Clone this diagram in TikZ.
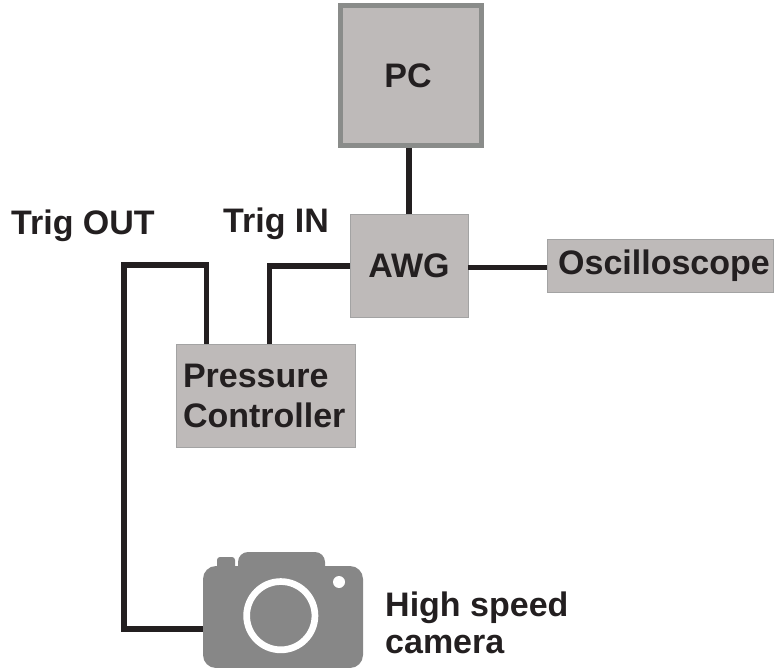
\documentclass[tikz,border=0pt]{standalone}
\usepackage{fontspec}
\setmainfont{Liberation Sans}
\definecolor{boxfill}{HTML}{BEBAB9}
\definecolor{pcborder}{HTML}{8A8C8A}
\definecolor{thinborder}{HTML}{A3A3A3}
\definecolor{ink}{HTML}{231F20}
\definecolor{camgray}{HTML}{878787}
\tikzset{
  lbl/.style={font=\fontsize{34}{40}\selectfont\bfseries, text=ink, inner sep=0pt},
  devbox/.style={lbl, fill=boxfill, draw=thinborder, line width=0.8pt, inner sep=0pt},
  pcbox/.style={lbl, fill=boxfill, draw=pcborder, line width=5pt, inner sep=0pt},
  wire/.style={draw=ink, line width=5.5pt, line join=miter, line cap=butt},
}
\begin{document}
\begin{tikzpicture}[x=1pt,y=-1pt]
\useasboundingbox (0,0) rectangle (774,668);
% boxes
\node[pcbox, minimum width=141pt, minimum height=140.5pt] (pc) at (411,75.75) {\hspace*{-6pt}\raisebox{-2pt}{PC}};
\node[devbox, minimum width=118pt, minimum height=103pt] (awg) at (409,265.5) {\raisebox{-4pt}{AWG}};
\node[devbox, minimum width=226pt, minimum height=53pt] (osc) at (660,265.5) {\hspace*{8pt}\raisebox{-4pt}{Oscilloscope}};
\node[devbox, minimum width=179pt, minimum height=103pt, text width=165pt, inner xsep=7pt, align=left] (ctrl) at (265.5,395.5) {Pressure\\Controller};
% camera
\fill[camgray, rounded corners=10pt] (238,585) -- (238,552) -- (325,552) -- (325,585) -- cycle;
\fill[camgray, rounded corners=3pt] (217,557) rectangle (235,575);
\node[fill=camgray, minimum width=160pt, minimum height=102pt, rounded corners=13pt, inner sep=0pt] (cam) at (283,617) {};
\fill[white, even odd rule] (280.8,615.7) circle (37.5pt) circle (30.8pt);
\fill[white] (339,582) circle (6pt);
% labels
\node[lbl, anchor=base west] (tout) at (11,235) {Trig OUT};
\node[lbl, anchor=base west] (tin) at (223,233) {Trig IN};
\node[lbl, anchor=north west, align=left, font=\fontsize{34}{37}\selectfont\bfseries] (camlbl) at (385,592) {High speed\\camera};
% connectors
\draw[wire] (awg.north) -- (awg.north |- pc.south);
\draw[wire] (awg.east |- 0,267.5) -- (osc.west |- 0,267.5);
\draw[wire] (awg.west |- 0,266) -| ([xshift=94pt]ctrl.north west);
\draw[wire] ([xshift=31pt]ctrl.north west) |- (124,265) -- (124,629) -- (cam.west |- 0,629);
\end{tikzpicture}
\end{document}
